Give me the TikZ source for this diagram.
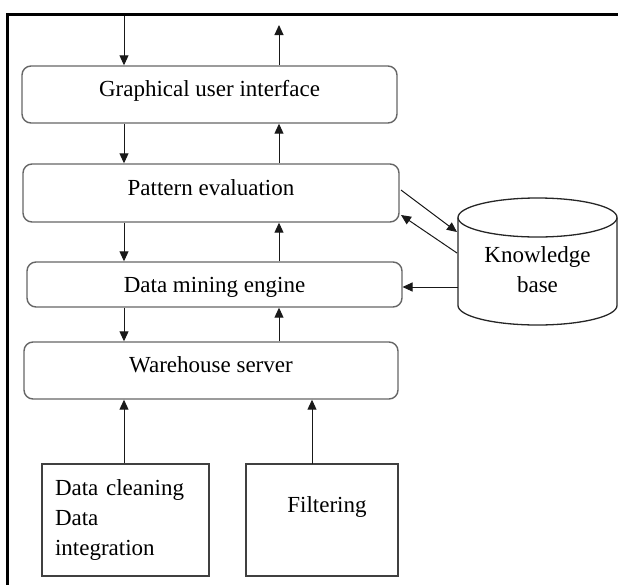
\documentclass[tikz,border=0pt]{standalone}
\usepackage{fontspec}
\setmainfont{Liberation Serif}
\usetikzlibrary{arrows.meta}
\begin{document}
\begin{tikzpicture}[x=1pt,y=-1pt,
  txt/.style={font=\fontsize{23}{30}\selectfont, text=black},
  rbox/.style={txt, draw=black!60, line width=1.4pt, rounded corners=9pt, inner sep=0pt},
  sbox/.style={txt, draw=black!75, line width=1.8pt, inner sep=0pt},
  arr/.style={draw=black!90, line width=1pt, -{Triangle[length=10pt,width=9pt]}},
  frame/.style={draw=black, line width=2.6pt, line join=miter}]
\useasboundingbox (0,0) rectangle (618,584);
% outer frame
\draw[frame] (7.5,586) -- (7.5,14.5) -- (620,14.5);

% boxes
\node[rbox, minimum width=375, minimum height=57, text height=12, text depth=8] (gui) at (209.5,94.5) {Graphical user interface};
\node[rbox, minimum width=376, minimum height=58, text height=12, text depth=7] (pe) at (211,193) {Pattern evaluation};
\node[rbox, minimum width=375, minimum height=45, text height=15, text depth=0] (dme) at (214.5,284.5) {Data mining engine};
\node[rbox, minimum width=374, minimum height=57, text height=12, text depth=8] (ws) at (211,370.5) {Warehouse server};

\node[sbox, minimum width=167, minimum height=112, text width=141, inner xsep=13pt, align=left] (dc) at (125.5,520) {Data cleaning\\Data\\integration};
\node[sbox, minimum width=152, minimum height=112, text height=5, text depth=20] (filt) at (322,520) {\hspace*{10pt}Filtering};

% knowledge base cylinder
\draw[draw=black!85, line width=1.3pt] (458,217.5) -- (458,305.5)
  arc[start angle=180, end angle=0, x radius=79.5, y radius=19.5] -- (617,217.5);
\draw[draw=black!85, line width=1.3pt] (537.5,217.5) ellipse [x radius=79.5, y radius=19.5];
\node[txt, align=center, inner sep=0pt] (kb) at (537.5,270) {Knowledge\\base};

% coordinates
\coordinate (in1) at (124,16);
\coordinate (out1) at (279,25);
\coordinate (filtout) at (312,464);
\coordinate (peR1) at (401,190);
\coordinate (peR2) at (401,215);
\coordinate (kbL1) at (457,232);
\coordinate (kbL2) at (457,253);
\coordinate (kbL3) at (458,287);
\coordinate (dmeR) at (402.5,287);

% vertical arrows
\draw[arr] (in1) -- (in1 |- gui.north);
\draw[arr] (out1 |- gui.north) -- (out1);
\draw[arr] (in1 |- gui.south) -- (in1 |- pe.north);
\draw[arr] (out1 |- pe.north) -- (out1 |- gui.south);
\draw[arr] (in1 |- pe.south) -- (in1 |- dme.north);
\draw[arr] (out1 |- dme.north) -- (out1 |- pe.south);
\draw[arr] (in1 |- dme.south) -- (in1 |- ws.north);
\draw[arr] (out1 |- ws.north) -- (out1 |- dme.south);
\draw[arr] (in1 |- dc.north) -- (in1 |- ws.south);
\draw[arr] (filtout) -- (filtout |- ws.south);

% knowledge base arrows
\draw[arr] (peR1) -- (kbL1);
\draw[arr] (kbL2) -- (peR2);
\draw[arr] (kbL3) -- (dmeR);
\end{tikzpicture}
\end{document}
